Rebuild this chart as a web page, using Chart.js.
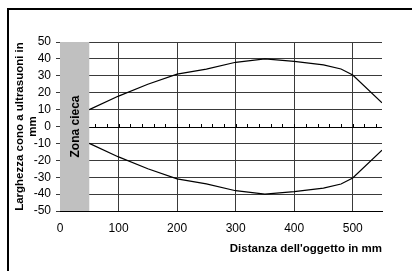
<!DOCTYPE html>
<html>
<head>
<meta charset="utf-8">
<script src="https://cdn.jsdelivr.net/npm/chart.js@4/dist/chart.umd.min.js"></script>
<style>
  html, body { margin: 0; padding: 0; background: #fff; }
  #wrap { position: relative; width: 412px; height: 271px; overflow: hidden; }
  #frame { position: absolute; left: 7px; top: 8px; width: 420px; height: 300px;
           border-left: 2px solid #000; border-top: 2px solid #000; }
  canvas { position: absolute; left: 0; top: 0; }
</style>
</head>
<body>
<div id="wrap">
  <div id="frame"></div>
  <canvas id="chart" width="412" height="271"></canvas>
</div>
<script>
// Distance (mm) and cone half-widths (mm)
const distances = [50, 100, 150, 200, 250, 300, 350, 400, 450, 480, 500, 550];
const upperWidth = [10, 18, 25, 31, 34, 38, 40, 38.5, 36.5, 34, 30.5, 14];
const lowerWidth = [-10, -18, -25, -31, -34, -38, -40, -38.5, -36.5, -34, -30.5, -14];
const yTicks = [-50, -40, -30, -20, -10, 0, 10, 20, 30, 40, 50];
const blindZone = [0, 50];

const font = "'Liberation Sans', Arial, sans-serif";

const toPoints = (xs, ys) => xs.map((x, i) => ({ x: x, y: ys[i] }));

// grey blind zone, zero line and its minor ticks, axis titles
const extras = {
  id: "extras",
  beforeDatasetsDraw(chart) {
    const { ctx, chartArea, scales } = chart;
    const x = scales.x, y = scales.y;
    const x0 = x.getPixelForValue(blindZone[0]);
    const x1 = x.getPixelForValue(blindZone[1]);
    const y0 = y.getPixelForValue(0);
    ctx.save();
    // zero axis with minor ticks
    ctx.strokeStyle = "#000";
    ctx.lineWidth = 1;
    ctx.beginPath();
    ctx.moveTo(chartArea.left, Math.round(y0) + 0.5);
    ctx.lineTo(chartArea.right, Math.round(y0) + 0.5);
    for (let v = 20; v <= 540; v += 20) {
      const px = Math.round(x.getPixelForValue(v)) + 0.5;
      ctx.moveTo(px, Math.round(y0) + 0.5);
      ctx.lineTo(px, Math.round(y0) - 3);
    }
    ctx.stroke();
    // blind zone
    ctx.fillStyle = "#c0c0c0";
    ctx.fillRect(x0, chartArea.top, x1 - x0, chartArea.bottom - chartArea.top);
    ctx.translate((x0 + x1) / 2 + 1, (chartArea.top + chartArea.bottom) / 2);
    ctx.rotate(-Math.PI / 2);
    ctx.fillStyle = "#000";
    ctx.font = "bold 12px " + font;
    ctx.textAlign = "center";
    ctx.textBaseline = "middle";
    ctx.fillText("Zona cieca", 0, 0);
    ctx.restore();
  },
  afterDraw(chart) {
    const { ctx, chartArea } = chart;
    ctx.save();
    ctx.fillStyle = "#000";
    ctx.font = "bold 11.5px " + font;
    ctx.textAlign = "right";
    ctx.textBaseline = "middle";
    ctx.fillText("Distanza dell'oggetto in mm", chartArea.right, 249);
    const cy = (chartArea.top + chartArea.bottom) / 2;
    ctx.translate(20, cy);
    ctx.rotate(-Math.PI / 2);
    ctx.textAlign = "center";
    ctx.fillText("Larghezza cono a ultrasuoni in", 0, 0);
    ctx.fillText("mm", 0, 13);
    ctx.restore();
  }
};

const gridColor = "#3a3a3a";

new Chart(document.getElementById("chart"), {
  type: "scatter",
  data: {
    datasets: [
      { data: toPoints(distances, upperWidth) },
      { data: toPoints(distances, lowerWidth) }
    ]
  },
  options: {
    responsive: false,
    animation: false,
    showLine: true,
    layout: { padding: { top: 42, right: 30, left: 0, bottom: 0 } },
    elements: {
      line: { borderColor: "#000", borderWidth: 1.2, tension: 0 },
      point: { radius: 0 }
    },
    plugins: { legend: { display: false }, tooltip: { enabled: false } },
    scales: {
      x: {
        type: "linear",
        min: 0,
        max: 550,
        afterFit(scale) { scale.height = 60; },
        ticks: {
          stepSize: 100,
          includeBounds: false,
          autoSkip: false,
          maxRotation: 0,
          padding: 10,
          color: "#000",
          font: { family: font, size: 12 }
        },
        grid: { color: gridColor, lineWidth: 1, tickLength: 0 },
        border: { display: true, color: "#000", width: 1 }
      },
      y: {
        min: -50,
        max: 50,
        afterFit(scale) { scale.width = 60; },
        afterBuildTicks(scale) { scale.ticks = yTicks.map(v => ({ value: v })); },
        ticks: {
          autoSkip: false,
          padding: 5,
          color: "#000",
          font: { family: font, size: 12 }
        },
        grid: {
          color: (c) => c.tick && c.tick.value === 0 ? "rgba(0,0,0,0)" : gridColor,
          lineWidth: 1,
          tickLength: 4,
          tickColor: gridColor
        },
        border: { display: false }
      }
    }
  },
  plugins: [extras]
});
</script>
</body>
</html>
